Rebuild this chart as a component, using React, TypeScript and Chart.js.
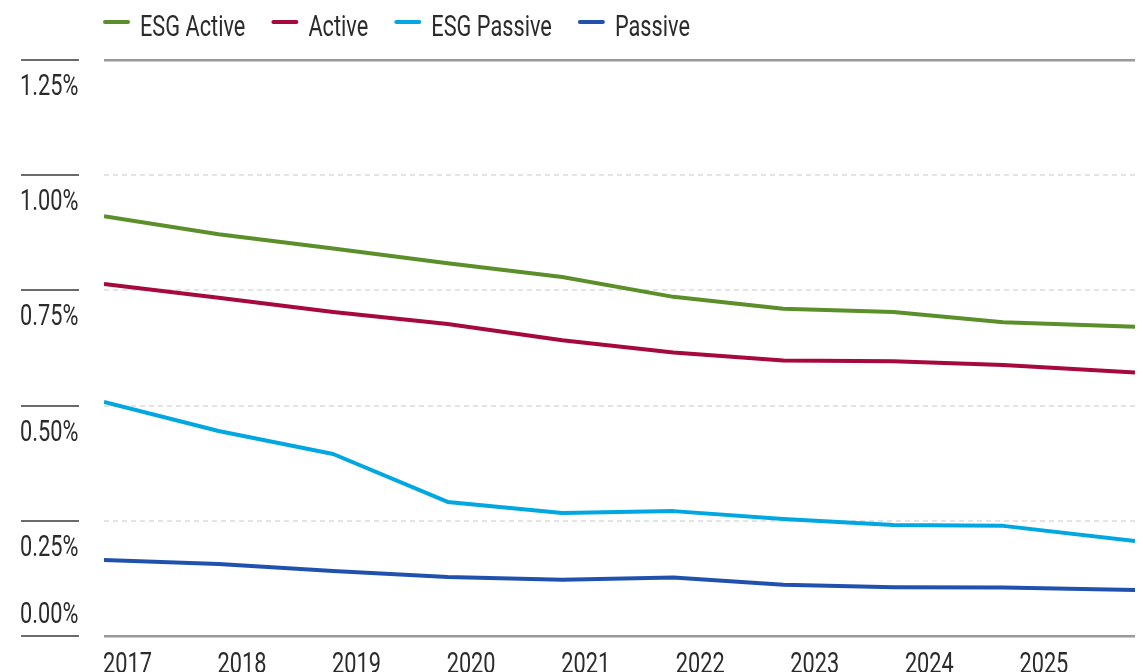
import React, { useEffect, useRef } from 'react';
import { Chart, registerables } from 'chart.js';

Chart.register(...registerables);

// ---- Data ----
const yearTicks = [2017, 2018, 2019, 2020, 2021, 2022, 2023, 2024, 2025];
const pointYears = [2017, 2018, 2019, 2020, 2021, 2021.97, 2022.93, 2023.89, 2024.85, 2026];
const esgActive = [0.911, 0.872, 0.841, 0.809, 0.779, 0.736, 0.71, 0.703, 0.681, 0.671];
const active = [0.764, 0.734, 0.703, 0.677, 0.642, 0.615, 0.598, 0.596, 0.588, 0.572];
const esgPassive = [0.508, 0.445, 0.395, 0.291, 0.267, 0.271, 0.254, 0.241, 0.239, 0.206];
const passive = [0.165, 0.156, 0.141, 0.128, 0.122, 0.127, 0.111, 0.106, 0.105, 0.1];
const seriesNames = ['ESG Active', 'Active', 'ESG Passive', 'Passive'];
const seriesColors = ['#5a8f29', '#a6093d', '#00a7e1', '#2052ad'];
const yMin = 0;
const yMax = 1.25;
const yStep = 0.25;

const FONT_FAMILY = 'Roboto, "Liberation Sans", sans-serif';
const FONT_SIZE = 29;
const SCALE_X = 0.75;
const TEXT_COLOR = '#2b2b2b';

function drawCondensed(ctx: any, text: string, x: number, y: number) {
  ctx.save();
  ctx.translate(x, y);
  ctx.scale(SCALE_X, 1);
  ctx.fillText(text, 0, 0);
  ctx.restore();
}

const textPlugin = {
  id: 'textPlugin',
  afterDraw(chart: any) {
    const ctx = chart.ctx;
    const y = chart.scales.y;
    const x = chart.scales.x;
    ctx.save();
    ctx.font = `${FONT_SIZE}px ${FONT_FAMILY}`;
    ctx.fillStyle = TEXT_COLOR;
    ctx.textAlign = 'left';
    ctx.textBaseline = 'alphabetic';

    // y-axis: short rules + labels
    y.ticks.forEach((t: any) => {
      const py = Math.round(y.getPixelForValue(t.value));
      ctx.strokeStyle = '#6b6b6b';
      ctx.lineWidth = 2;
      ctx.beginPath();
      ctx.moveTo(21, py);
      ctx.lineTo(79, py);
      ctx.stroke();
      const label = t.value.toFixed(2) + '%';
      const base = t.value === 0 ? py - 13 : py + 35;
      ctx.fillStyle = TEXT_COLOR;
      drawCondensed(ctx, label, 20, base);
    });

    // x-axis labels (left-aligned at their year)
    yearTicks.forEach((yr) => {
      const px = x.getPixelForValue(yr);
      drawCondensed(ctx, String(yr), px - 1, chart.chartArea.bottom + 37);
    });

    // legend
    let lx = 103;
    chart.data.datasets.forEach((ds: any) => {
      ctx.strokeStyle = ds.borderColor;
      ctx.lineWidth = 4;
      ctx.lineCap = 'round';
      ctx.beginPath();
      ctx.moveTo(lx + 2, 22);
      ctx.lineTo(lx + 25, 22);
      ctx.stroke();
      ctx.fillStyle = TEXT_COLOR;
      drawCondensed(ctx, ds.label, lx + 37, 36);
      lx += 37 + ctx.measureText(ds.label).width * SCALE_X + 26;
    });
    ctx.restore();
  },
};

export default function App() {
  const canvasRef = useRef<HTMLCanvasElement | null>(null);

  useEffect(() => {
    if (!canvasRef.current) return;
    const seriesData = [esgActive, active, esgPassive, passive];
    const chart = new Chart(canvasRef.current, {
      type: 'line',
      data: {
        datasets: seriesData.map((vals, i) => ({
          label: seriesNames[i],
          data: vals.map((v, j) => ({ x: pointYears[j], y: v })),
          borderColor: seriesColors[i],
          backgroundColor: seriesColors[i],
          borderWidth: 4,
          pointRadius: 0,
          tension: 0,
          borderJoinStyle: 'round',
          fill: false,
        })),
      },
      options: {
        animation: false,
        responsive: true,
        maintainAspectRatio: false,
        layout: { padding: { left: 104, right: 8, top: 60, bottom: 0 } },
        plugins: {
          legend: { display: false },
          tooltip: { enabled: false },
        },
        scales: {
          x: {
            type: 'linear',
            min: 2017,
            max: 2026,
            afterBuildTicks: (scale: any) => {
              scale.ticks = yearTicks.map((v) => ({ value: v }));
            },
            afterFit: (scale: any) => {
              scale.height = 40;
            },
            ticks: { display: false },
            grid: { display: false, drawTicks: false },
            border: { display: false },
          },
          y: {
            type: 'linear',
            min: yMin,
            max: yMax,
            ticks: { stepSize: yStep, display: false },
            grid: {
              drawTicks: false,
              color: (c: any) =>
                c.tick && (c.tick.value === yMin || c.tick.value === yMax) ? '#9a9a9a' : '#e3e3e3',
              lineWidth: (c: any) =>
                c.tick && (c.tick.value === yMin || c.tick.value === yMax) ? 2.5 : 2,
            },
            border: {
              display: false,
              dash: (c: any) =>
                c.tick && (c.tick.value === yMin || c.tick.value === yMax) ? [] : [5, 4],
            },
          },
        },
      },
      plugins: [textPlugin],
    } as any);
    return () => chart.destroy();
  }, []);

  return (
    <div style={{ position: 'fixed', left: 0, top: 0, width: 1143, height: 676, background: '#fff' }}>
      <canvas ref={canvasRef} style={{ display: 'block' }} />
    </div>
  );
}
